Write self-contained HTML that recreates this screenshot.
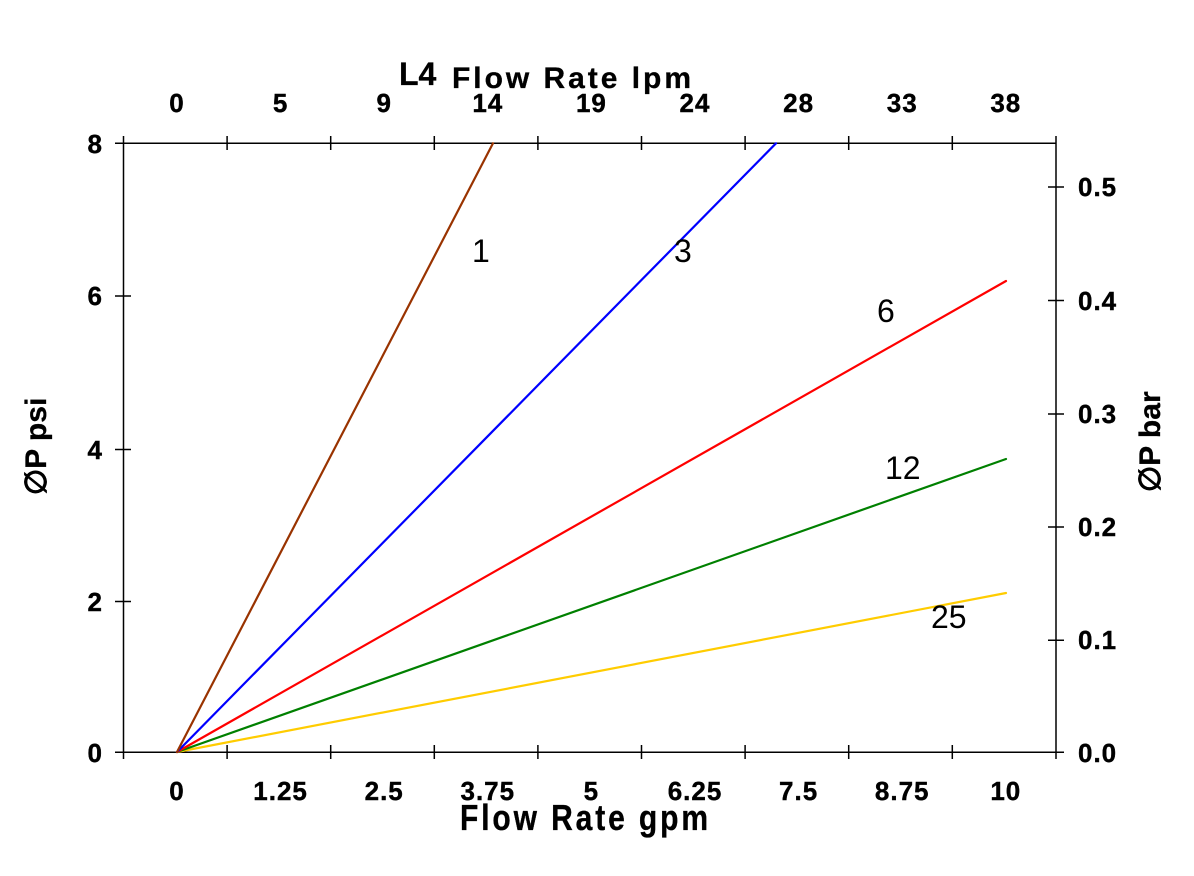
<!DOCTYPE html>
<html><head><meta charset="utf-8"><style>
html,body{margin:0;padding:0;background:#fff;}
svg{display:block;}
.t{font-family:"Liberation Sans",Arial,sans-serif;font-weight:bold;font-size:26px;letter-spacing:1px;fill:#000;stroke:#000;stroke-width:0.4px;}
.c{font-family:"Liberation Sans",Arial,sans-serif;font-size:32px;fill:#000;}
.h{font-family:"Liberation Sans",Arial,sans-serif;font-weight:bold;font-size:30px;letter-spacing:2px;fill:#000;stroke:#000;stroke-width:0.3px;}
</style></head><body>
<svg width="1194" height="876" viewBox="0 0 1194 876" xmlns="http://www.w3.org/2000/svg">
<rect width="1194" height="876" fill="#fff"/>
<g stroke="#000" stroke-width="1.5" fill="none">
<line x1="115" y1="143.3" x2="1056" y2="143.3"/>
<line x1="115" y1="752.3" x2="1064" y2="752.3"/>
<line x1="123.5" y1="136" x2="123.5" y2="759"/>
<line x1="1056" y1="136" x2="1056" y2="759"/>
<path d="M227.1 136V150M330.7 136V150M434.3 136V150M537.9 136V150M641.5 136V150M745.1 136V150M848.7 136V150M952.3 136V150"/>
<path d="M227.1 745V759M330.7 745V759M434.3 745V759M537.9 745V759M641.5 745V759M745.1 745V759M848.7 745V759M952.3 745V759"/>
<path d="M115 296H131M115 449.5H131M115 601.5H131"/>
<path d="M1048 187H1064M1048 300.5H1064M1048 414H1064M1048 527H1064M1048 640.3H1064M1048 752.3H1064"/>
</g>
<g stroke-width="2.2" fill="none" stroke-linecap="round">
<line x1="177" y1="752" x2="1006" y2="593" stroke="#ffcc00"/>
<line x1="177" y1="752" x2="1006" y2="459" stroke="#008000"/>
<line x1="177" y1="752" x2="1006" y2="281" stroke="#ff0000"/>
<line x1="177" y1="752" x2="776" y2="143.3" stroke="#0000ff"/>
<line x1="177" y1="752" x2="493" y2="143.3" stroke="#993300"/>
</g>
<text class="c" x="472" y="262">1</text>
<text class="c" x="674" y="262">3</text>
<text class="c" x="877" y="322">6</text>
<text class="c" x="885" y="479">12</text>
<text class="c" x="931" y="628">25</text>
<g class="t" text-anchor="middle">
<text x="177" y="112">0</text>
<text x="280.6" y="112">5</text>
<text x="384.2" y="112">9</text>
<text x="487.8" y="112">14</text>
<text x="591.4" y="112">19</text>
<text x="695" y="112">24</text>
<text x="798.6" y="112">28</text>
<text x="902.2" y="112">33</text>
<text x="1005.8" y="112">38</text>
</g>
<g class="t" text-anchor="middle">
<text x="177" y="800">0</text>
<text x="280.6" y="800">1.25</text>
<text x="384.2" y="800">2.5</text>
<text x="487.8" y="800">3.75</text>
<text x="591.4" y="800">5</text>
<text x="695" y="800">6.25</text>
<text x="798.6" y="800">7.5</text>
<text x="902.2" y="800">8.75</text>
<text x="1005.8" y="800">10</text>
</g>
<g class="t" text-anchor="end">
<text x="103" y="153">8</text>
<text x="103" y="305">6</text>
<text x="103" y="459">4</text>
<text x="103" y="611">2</text>
<text x="103" y="762">0</text>
</g>
<g class="t">
<text x="1078" y="196">0.5</text>
<text x="1078" y="310">0.4</text>
<text x="1078" y="423">0.3</text>
<text x="1078" y="536">0.2</text>
<text x="1078" y="649">0.1</text>
<text x="1078" y="762">0.0</text>
</g>
<text x="399" y="85" style="font-family:'Liberation Sans',Arial,sans-serif;font-weight:bold;font-size:32px;stroke:#000;stroke-width:0.3px;">L4</text>
<text class="h" x="452" y="88" textLength="241" lengthAdjust="spacing">Flow Rate lpm</text>
<text class="h" x="0" y="0" transform="translate(460,830) scale(1,1.2)" textLength="250" lengthAdjust="spacing">Flow Rate gpm</text>
<text class="h" transform="translate(46,495) rotate(-90)" style="letter-spacing:0">∅P psi</text>
<text class="h" transform="translate(1160,492) rotate(-90)" style="letter-spacing:0">∅P bar</text>
</svg>
</body></html>
